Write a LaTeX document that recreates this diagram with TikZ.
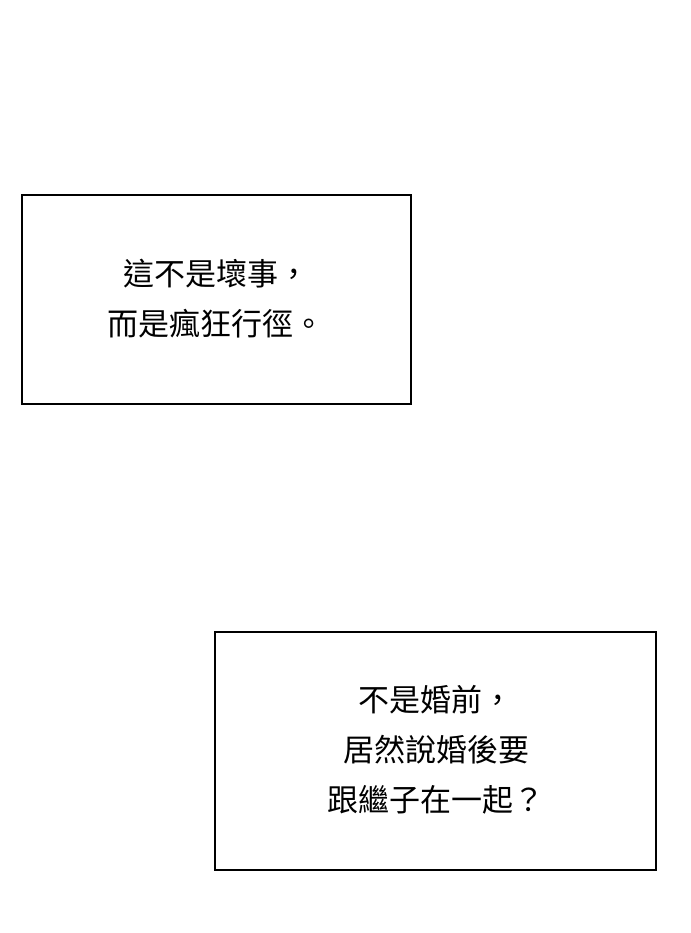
\documentclass[tikz,border=0pt]{standalone}
\usepackage{fontspec}
\newfontfamily\cjk{Noto Sans CJK TC}
\begin{document}
\begin{tikzpicture}[x=1pt,y=-1pt]
\tikzset{panel/.style={draw=black,line width=2.5pt,fill=white},
  speech/.style={font=\cjk\fontsize{31}{50}\selectfont,align=center,text=black}}
\useasboundingbox[fill=white] (0,0) rectangle (690,933);
\draw[panel] (22,195) rectangle (411,404);
\node[speech] (first) at (216,299) {這不是壞事，\\而是瘋狂行徑。};
\draw[panel] (215,632) rectangle (656,870);
\node[speech] (second) at (436,750) {不是婚前，\\居然說婚後要\\跟繼子在一起？};
\end{tikzpicture}
\end{document}
